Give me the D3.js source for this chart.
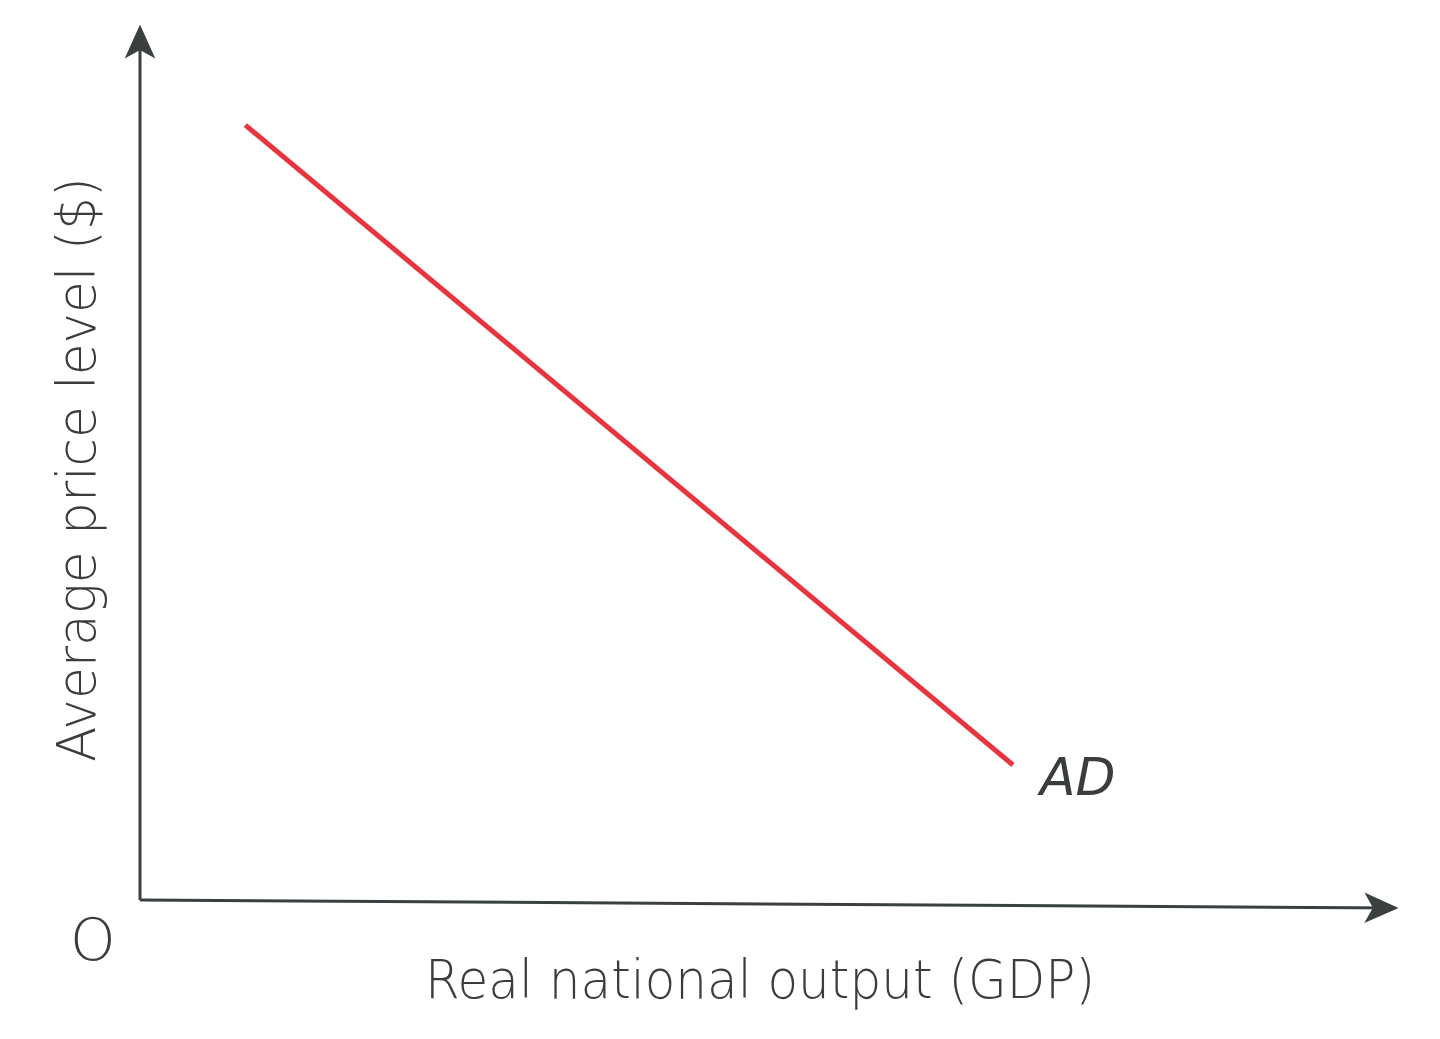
<!DOCTYPE html>
<html>
<head>
<meta charset="utf-8">
<script src="https://cdn.jsdelivr.net/npm/d3@7"></script>
<style>
  body { margin: 0; background: #fff; }
  text { font-family: "DejaVu Sans", sans-serif; font-weight: 200; fill: #3a3d3d; }
</style>
</head>
<body>
<div id="chart"></div>
<script>
// AD curve data (arbitrary units)
var adX = [8.5, 70.4];
var adY = [90.1, 15.7];
var xTitle = "Real national output (GDP)";
var yTitle = "Average price level ($)";
var curveLabel = "AD";

var svgWidth = 1440, svgHeight = 1039;
var svg = d3.select("#chart").append("svg")
    .attr("width", svgWidth).attr("height", svgHeight);

var x = d3.scaleLinear().domain([0, 100]).range([140, 1380]);
var y = d3.scaleLinear().domain([0, 100]).range([900, 40]);

// arrow marker, slightly swept back like the reference
svg.append("defs").append("marker")
    .attr("id", "arrow")
    .attr("viewBox", "0 0 10 10")
    .attr("refX", 9).attr("refY", 5)
    .attr("markerWidth", 34).attr("markerHeight", 34)
    .attr("markerUnits", "userSpaceOnUse")
    .attr("orient", "auto")
    .append("path")
    .attr("d", "M0,0.5 L10,5 L0,9.5 L2.5,5 Z")
    .attr("fill", "#3a3f3f");

// axes
svg.append("line")
    .attr("x1", x(0)).attr("y1", y(0))
    .attr("x2", x(0)).attr("y2", y(0) - 872)
    .attr("stroke", "#3a3f3f").attr("stroke-width", 3)
    .attr("marker-end", "url(#arrow)");
svg.append("line")
    .attr("x1", x(0)).attr("y1", y(0))
    .attr("x2", x(0) + 1255).attr("y2", y(0) + 8)
    .attr("stroke", "#3a3f3f").attr("stroke-width", 3)
    .attr("marker-end", "url(#arrow)");

// AD line
var pts = adX.map(function(d, i) { return [d, adY[i]]; });
svg.append("path")
    .datum(pts)
    .attr("d", d3.line().x(d => x(d[0])).y(d => y(d[1])))
    .attr("stroke", "#e8343f").attr("stroke-width", 5)
    .attr("fill", "none");

// labels
svg.append("text").attr("x", 1040).attr("y", 795)
    .attr("font-size", 52).attr("font-style", "italic")
    .text(curveLabel);

svg.append("text").attr("x", 70).attr("y", 960)
    .attr("font-size", 58).text("O");

svg.append("text").attr("x", 425).attr("y", 998)
    .attr("font-size", 54)
    .attr("textLength", 670).attr("lengthAdjust", "spacingAndGlyphs")
    .text(xTitle);

svg.append("text")
    .attr("transform", "translate(95,762) rotate(-90)")
    .attr("font-size", 54)
    .attr("textLength", 585).attr("lengthAdjust", "spacingAndGlyphs")
    .text(yTitle);
</script>
</body>
</html>
